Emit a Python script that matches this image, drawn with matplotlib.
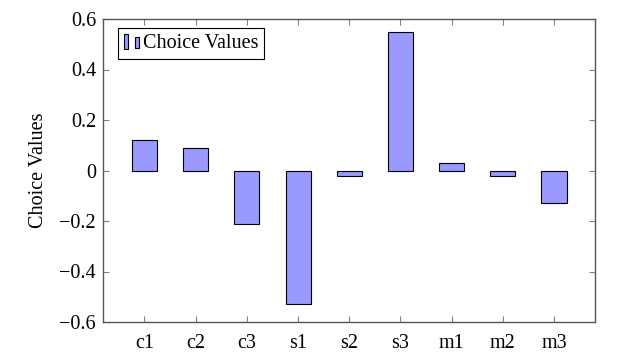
import numpy as np
import matplotlib
matplotlib.use('Agg')
import matplotlib.pyplot as plt
from matplotlib.patches import Rectangle
from matplotlib.legend_handler import HandlerBase

categories = ['c1', 'c2', 'c3', 's1', 's2', 's3', 'm1', 'm2', 'm3']
choice_values = [0.12, 0.09, -0.21, -0.53, -0.02, 0.55, 0.03, -0.02, -0.13]

plt.rcParams['font.family'] = ['Liberation Serif', 'DejaVu Serif']

bar_color = '#9999ff'


class TwoBarHandler(HandlerBase):
    # pgfplots style legend icon: two little bars
    def create_artists(self, legend, orig_handle, xdescent, ydescent,
                       width, height, fontsize, trans):
        bw = width * 0.25
        r1 = Rectangle((-xdescent, -ydescent - height * 0.05), bw, height * 1.05,
                       facecolor=bar_color, edgecolor='black', lw=0.8, transform=trans)
        r2 = Rectangle((-xdescent + width * 0.6, -ydescent + height * 0.05), bw, height * 0.75,
                       facecolor=bar_color, edgecolor='black', lw=0.8, transform=trans)
        return [r1, r2]


fig = plt.figure(figsize=(6.42, 3.59), dpi=100)
ax = fig.add_axes([103 / 642, 1 - 322 / 359, (595 - 103) / 642, (322 - 19) / 359])

x = np.arange(len(categories))
bars = ax.bar(x, choice_values, width=0.49, color=bar_color, edgecolor='black',
              linewidth=0.8, label='Choice Values')

ax.set_xlim(-0.81, 8.8)
ax.set_ylim(-0.6, 0.6)
ax.set_xticks(x)
ax.set_xticklabels(categories)
ax.set_yticks(np.arange(-0.6, 0.61, 0.2))
ax.set_yticklabels(['\u22120.6', '\u22120.4', '\u22120.2', '0', '0.2', '0.4', '0.6'])
ax.tick_params(direction='in', top=True, right=True, labelsize=14.5, length=4,
               color='#808080', width=0.8, pad=5)
ax.tick_params(axis='x', pad=9)
for sp in ax.spines.values():
    sp.set_color('#555555')
    sp.set_linewidth(1.0)

ax.set_ylabel('Choice Values', fontsize=14.5, labelpad=8)

leg = ax.legend(handler_map={bars: TwoBarHandler()}, loc='upper left',
                bbox_to_anchor=(0.03, 0.97), fontsize=14.5, fancybox=False,
                framealpha=1, edgecolor='black', handlelength=0.9,
                handletextpad=0.05, borderpad=0.3, borderaxespad=0)
leg.get_frame().set_linewidth(0.8)

plt.savefig('out.png', dpi=100)
